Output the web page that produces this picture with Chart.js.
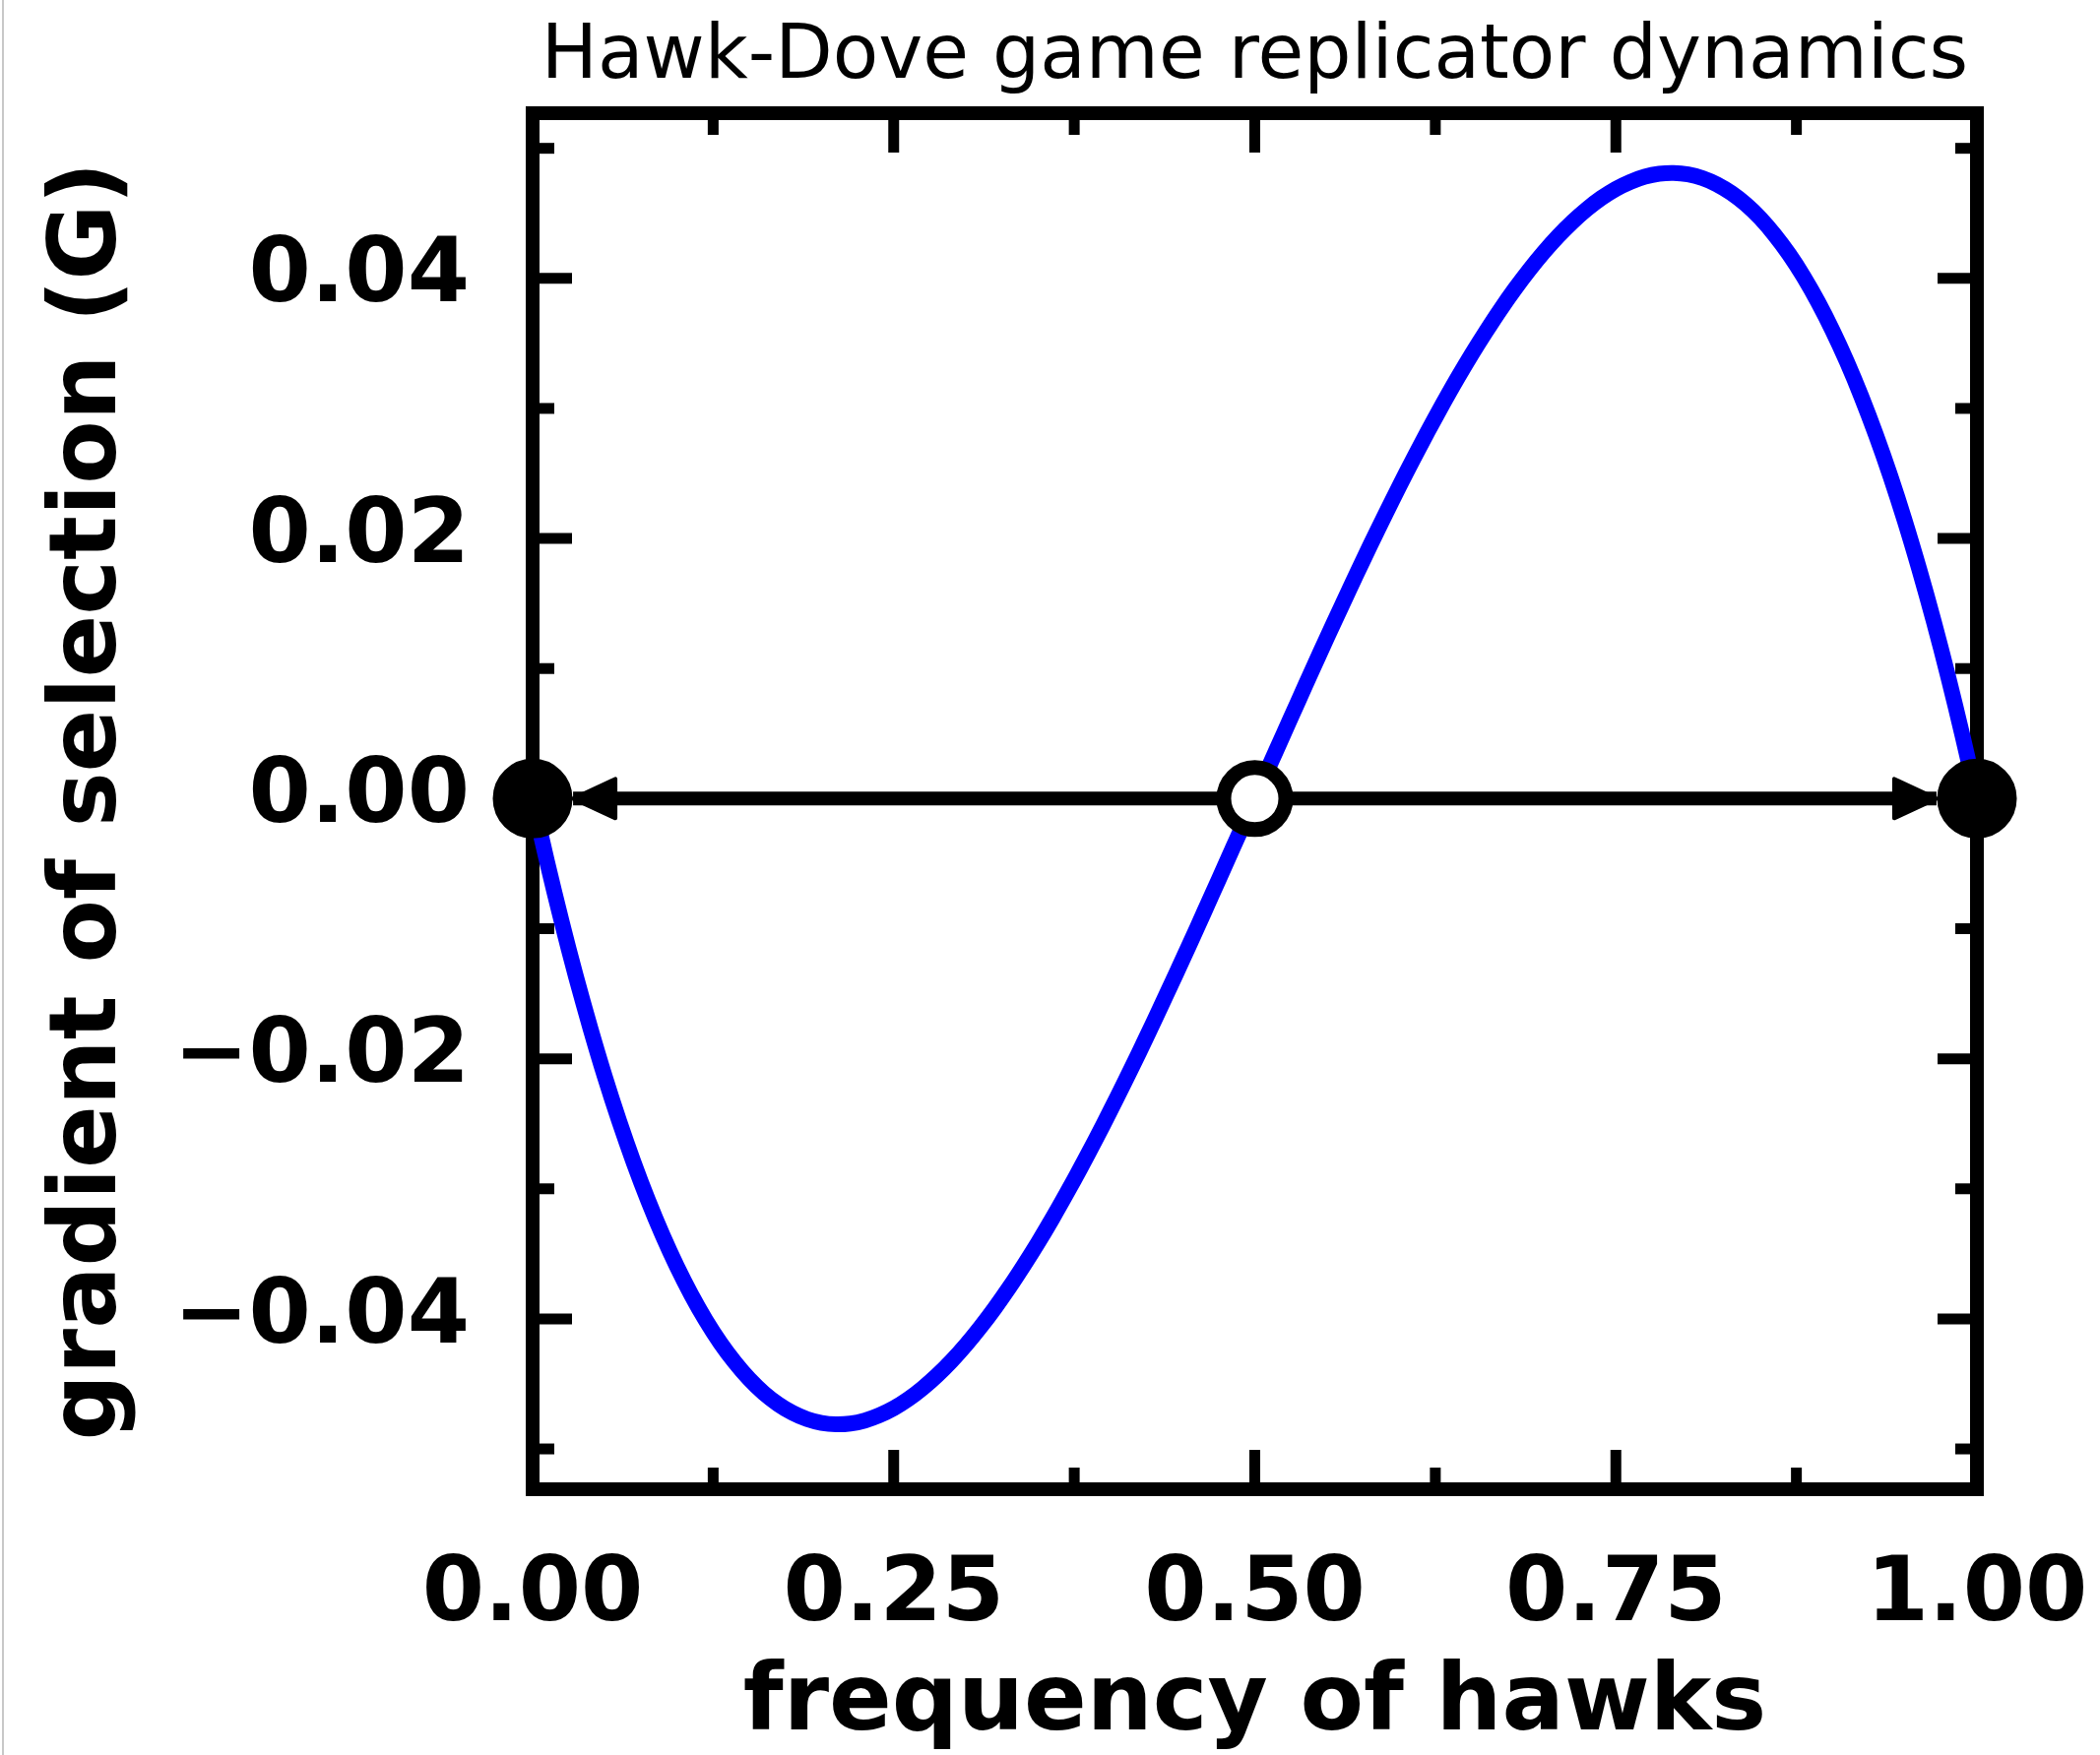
<!DOCTYPE html>
<html>
<head>
<meta charset="utf-8">
<title>Hawk-Dove game replicator dynamics</title>
<script src="https://cdn.jsdelivr.net/npm/chart.js@4.4.1/dist/chart.umd.min.js"></script>
<style>
  body { margin: 0; background: #fff; }
  canvas { display: block; }
</style>
</head>
<body>
<canvas id="chart" width="2133" height="1783"></canvas>
<script>
// frequency of hawks (x) and gradient of selection G (y)
const hawkFreq = [
  0, 0.01, 0.02, 0.03, 0.04, 0.05, 0.06, 0.07, 0.08, 0.09,
  0.1, 0.11, 0.12, 0.13, 0.14, 0.15, 0.16, 0.17, 0.18, 0.19,
  0.2, 0.21, 0.22, 0.23, 0.24, 0.25, 0.26, 0.27, 0.28, 0.29,
  0.3, 0.31, 0.32, 0.33, 0.34, 0.35, 0.36, 0.37, 0.38, 0.39,
  0.4, 0.41, 0.42, 0.43, 0.44, 0.45, 0.46, 0.47, 0.48, 0.49,
  0.5, 0.51, 0.52, 0.53, 0.54, 0.55, 0.56, 0.57, 0.58, 0.59,
  0.6, 0.61, 0.62, 0.63, 0.64, 0.65, 0.66, 0.67, 0.68, 0.69,
  0.7, 0.71, 0.72, 0.73, 0.74, 0.75, 0.76, 0.77, 0.78, 0.79,
  0.8, 0.81, 0.82, 0.83, 0.84, 0.85, 0.86, 0.87, 0.88, 0.89,
  0.9, 0.91, 0.92, 0.93, 0.94, 0.95, 0.96, 0.97, 0.98, 0.99, 1
];
const gradient = [
  0, -0.00485, -0.00941, -0.01368, -0.01766, -0.02138, -0.02482, -0.02799, -0.03091, -0.03358,
  -0.03600, -0.03818, -0.04013, -0.04185, -0.04334, -0.04463, -0.04570, -0.04656, -0.04723, -0.04771,
  -0.04800, -0.04811, -0.04805, -0.04782, -0.04742, -0.04688, -0.04618, -0.04533, -0.04435, -0.04324,
  -0.04200, -0.04064, -0.03917, -0.03759, -0.03590, -0.03413, -0.03226, -0.03030, -0.02827, -0.02617,
  -0.02400, -0.02177, -0.01949, -0.01716, -0.01478, -0.01238, -0.00994, -0.00747, -0.00499, -0.00250,
  0, 0.00250, 0.00499, 0.00747, 0.00994, 0.01238, 0.01478, 0.01716, 0.01949, 0.02177,
  0.02400, 0.02617, 0.02827, 0.03030, 0.03226, 0.03413, 0.03590, 0.03759, 0.03917, 0.04064,
  0.04200, 0.04324, 0.04435, 0.04533, 0.04618, 0.04688, 0.04742, 0.04782, 0.04805, 0.04811,
  0.04800, 0.04771, 0.04723, 0.04656, 0.04570, 0.04463, 0.04334, 0.04185, 0.04013, 0.03818,
  0.03600, 0.03358, 0.03091, 0.02799, 0.02482, 0.02138, 0.01766, 0.01368, 0.00941, 0.00485, 0
];

// equilibria: stable at the ends, unstable in the middle
const equilibria = [0, 0.5, 1];
const equilibriumFill = ['#000000', '#ffffff', '#000000'];
const arrowTips = [0.028, 0.972];

const xMajorTicks = [0, 0.25, 0.5, 0.75, 1];
const xMinorTicks = [0.125, 0.375, 0.625, 0.875];
const yMajorTicks = [-0.04, -0.02, 0, 0.02, 0.04];
const yMinorTicks = [-0.05, -0.03, -0.01, 0.01, 0.03, 0.05];

const FONT = '"DejaVu Sans", "Liberation Sans", sans-serif';

function fmtTick(v) {
  const s = Math.abs(v).toFixed(2);
  return v < -1e-9 ? '\u2212' + s : s;
}

// keep the plot box where the layout padding puts it
function fixAxisBox(scale, size) {
  if (scale.isHorizontal()) scale.height = size; else scale.width = size;
  scale.paddingLeft = scale.paddingRight = 0;
  scale.paddingTop = scale.paddingBottom = 0;
}

// box frame with inward ticks on all four sides
const framePlugin = {
  id: 'frame',
  beforeDatasetsDraw(chart) {
    const { ctx, chartArea: a, scales } = chart;
    const xs = scales.x, ys = scales.y;
    ctx.save();
    ctx.strokeStyle = '#000';
    ctx.lineWidth = 11;
    ctx.lineCap = 'butt';
    const tick = (x1, y1, x2, y2) => {
      ctx.beginPath(); ctx.moveTo(x1, y1); ctx.lineTo(x2, y2); ctx.stroke();
    };
    xMajorTicks.forEach(v => {
      const px = xs.getPixelForValue(v);
      tick(px, a.bottom, px, a.bottom - 40);
      tick(px, a.top, px, a.top + 40);
    });
    xMinorTicks.forEach(v => {
      const px = xs.getPixelForValue(v);
      tick(px, a.bottom, px, a.bottom - 22);
      tick(px, a.top, px, a.top + 22);
    });
    yMajorTicks.forEach(v => {
      const py = ys.getPixelForValue(v);
      tick(a.left, py, a.left + 40, py);
      tick(a.right, py, a.right - 40, py);
    });
    yMinorTicks.forEach(v => {
      const py = ys.getPixelForValue(v);
      tick(a.left, py, a.left + 22, py);
      tick(a.right, py, a.right - 22, py);
    });
    ctx.lineWidth = 14;
    ctx.lineJoin = 'miter';
    ctx.strokeRect(a.left, a.top, a.right - a.left, a.bottom - a.top);
    ctx.restore();
  },
  afterDatasetDraw(chart, args) {
    // arrowheads on the flow line along G = 0
    if (args.index !== 1) return;
    const { ctx, scales } = chart;
    const y0 = scales.y.getPixelForValue(0);
    const mid = scales.x.getPixelForValue(0.5);
    ctx.save();
    ctx.fillStyle = '#000';
    ctx.strokeStyle = '#000';
    ctx.lineWidth = 4;
    ctx.lineJoin = 'round';
    arrowTips.forEach(v => {
      const tip = scales.x.getPixelForValue(v);
      const dir = tip < mid ? -1 : 1;
      ctx.beginPath();
      ctx.moveTo(tip, y0);
      ctx.lineTo(tip - dir * 43, y0 - 20);
      ctx.lineTo(tip - dir * 43, y0 + 20);
      ctx.closePath();
      ctx.fill();
      ctx.stroke();
    });
    ctx.restore();
  },
  afterDraw(chart) {
    const { ctx, chartArea: a } = chart;
    ctx.save();
    ctx.fillStyle = '#000';
    ctx.font = '76px ' + FONT;
    ctx.textAlign = 'center';
    ctx.textBaseline = 'alphabetic';
    ctx.fillText('Hawk-Dove game replicator dynamics', (a.left + a.right) / 2, 79);
    ctx.strokeStyle = '#c8c8c8';
    ctx.lineWidth = 2;
    ctx.beginPath();
    ctx.moveTo(3, 0);
    ctx.lineTo(3, chart.height);
    ctx.stroke();
    ctx.restore();
  }
};

const curve = hawkFreq.map((x, i) => ({ x: x, y: gradient[i] }));

new Chart(document.getElementById('chart'), {
  type: 'line',
  data: {
    datasets: [
      {
        label: 'equilibria',
        data: equilibria.map(x => ({ x: x, y: 0 })),
        showLine: false,
        pointRadius: [39, 31.5, 39],
        pointBorderWidth: [3, 15, 3],
        pointBackgroundColor: equilibriumFill,
        pointBorderColor: '#000',
        clip: false
      },
      {
        label: 'flow',
        data: arrowTips.map(x => ({ x: x, y: 0 })),
        borderColor: '#000',
        borderWidth: 14,
        pointRadius: 0,
        clip: false
      },
      {
        label: 'G',
        data: curve,
        borderColor: '#0000ff',
        borderWidth: 16,
        pointRadius: 0,
        tension: 0.3,
        borderJoinStyle: 'round',
        borderCapStyle: 'round'
      }
    ]
  },
  options: {
    responsive: false,
    animation: false,
    devicePixelRatio: 1,
    layout: { padding: { top: 115, right: 125, left: 0, bottom: 0 } },
    plugins: {
      legend: { display: false },
      tooltip: { enabled: false },
      title: { display: false }
    },
    scales: {
      x: {
        type: 'linear',
        min: 0,
        max: 1,
        afterFit(scale) { fixAxisBox(scale, 270); },
        afterBuildTicks(scale) { scale.ticks = xMajorTicks.map(v => ({ value: v })); },
        grid: { display: false, drawTicks: false },
        border: { display: false },
        ticks: {
          color: '#000',
          padding: 55,
          maxRotation: 0,
          font: { family: FONT, size: 91, weight: 'bold', lineHeight: 1.2 },
          callback: v => fmtTick(v)
        },
        title: {
          display: true,
          text: 'frequency of hawks',
          color: '#000',
          font: { family: FONT, size: 94, weight: 'bold', lineHeight: 1.2 },
          padding: { top: 0, bottom: -6 }
        }
      },
      y: {
        type: 'linear',
        min: -0.0531,
        max: 0.0527,
        afterFit(scale) { fixAxisBox(scale, 541); },
        afterBuildTicks(scale) { scale.ticks = yMajorTicks.map(v => ({ value: v })); },
        grid: { display: false, drawTicks: false },
        border: { display: false },
        ticks: {
          color: '#000',
          padding: 64,
          font: { family: FONT, size: 91, weight: 'bold', lineHeight: 1.2 },
          callback: v => fmtTick(v)
        },
        title: {
          display: true,
          text: 'gradient of selection (G)',
          color: '#000',
          font: { family: FONT, size: 94, weight: 'bold', lineHeight: 1.2 },
          padding: { top: 36, bottom: 0 }
        }
      }
    }
  },
  plugins: [framePlugin]
});
</script>
</body>
</html>
